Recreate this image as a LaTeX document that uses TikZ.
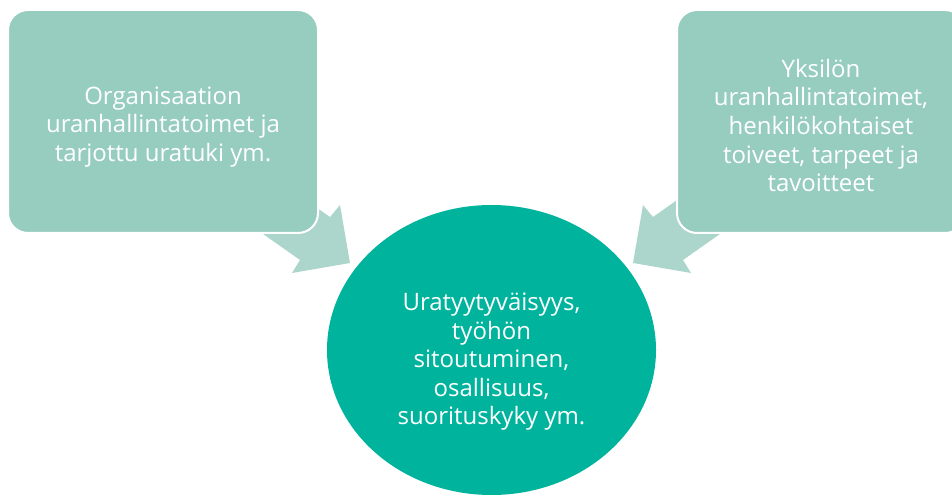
\documentclass[tikz,border=0pt]{standalone}
\usepackage{fontspec}
\setmainfont{Open Sans}
\usetikzlibrary{shapes.geometric}
\definecolor{boxcol}{HTML}{97CDBF}
\definecolor{arrcol}{HTML}{ACD6CB}
\definecolor{hubcol}{HTML}{00B39C}

\begin{document}
\begin{tikzpicture}[x=0.75pt, y=-0.75pt,
    txt/.style = {text=white, align=center, font=\fontsize{18}{21.4}\selectfont},
    box/.style = {draw=white, line width=1.5pt, fill=boxcol, rounded corners=15pt, minimum height=167.25pt},
    hub/.style = {ellipse, fill=hubcol, inner sep=0pt, minimum width=246.75pt, minimum height=217.5pt},
    arr/.style = {fill=arrcol}]
    \useasboundingbox (0,0) rectangle (952,495);
    \clip (0,0) rectangle (952,495);
    % arrows behind the boxes
    \fill[arr] (350,263) -- (340,205) -- (330,217) -- (232,148) -- (202,191) -- (300,260) -- (292,273) -- cycle;
    \fill[arr] (633,263) -- (643,205) -- (653,217) -- (751,148) -- (781,191) -- (683,260) -- (691,273) -- cycle;
    % boxes
    \node[box, minimum width=232.5pt] (org) at (163,121.5) {};
    \node[box, minimum width=216pt] (ind) at (821,121.5) {};
    \node[txt] (orgtxt) at ([yshift=-4pt]org.center) {Organisaation\\uranhallintatoimet ja\\tarjottu uratuki ym.};
    \node[txt] (indtxt) at ([yshift=-3pt]ind.center) {Yksilön\\uranhallintatoimet,\\henkilökohtaiset\\toiveet, tarpeet ja\\tavoitteet};
    % result
    \node[hub] (res) at (491.5,350) {};
    \node[txt] (restxt) at ([yshift=-9pt]res.center) {Uratyytyväisyys,\\työhön\\sitoutuminen,\\osallisuus,\\suorituskyky ym.};
\end{tikzpicture}
\end{document}
